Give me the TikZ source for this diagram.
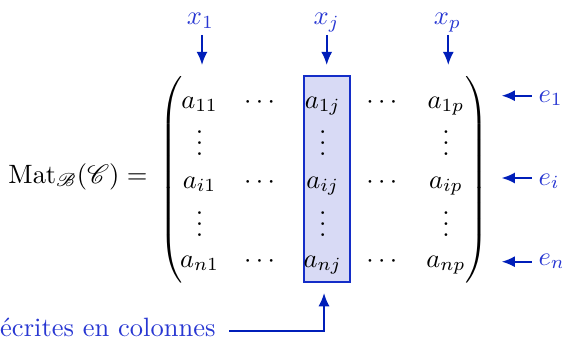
\documentclass[tikz,border=0pt]{standalone}
\usepackage{amsmath}
\usepackage{mathrsfs}
\usetikzlibrary{arrows.meta}
\definecolor{lblblue}{RGB}{40,55,210}
\definecolor{arrblue}{RGB}{0,30,185}
\definecolor{boxfill}{RGB}{216,218,245}
\definecolor{boxline}{RGB}{20,45,200}
\begin{document}
\begin{tikzpicture}[x=0.3774pt,y=-0.3774pt,
  ent/.style={anchor=base,inner sep=0pt},
  lbl/.style={text=lblblue,inner sep=0pt},
  arr/.style={draw=arrblue,line width=0.7pt,-{Latex[length=5pt,width=4.2pt]}},
  colbox/.style={draw=boxline,fill=boxfill,line width=0.45pt,inner sep=0pt},
  delim/.style={inner sep=0pt}]
\useasboundingbox (0,0) rectangle (562,341);
% highlighted column
\node[colbox,minimum width=17.36pt,minimum height=77.74pt] (colj) at (327,179) {};
% left part
\node[anchor=base east,inner sep=0pt] (mat) at (148,183) {$\mathrm{Mat}_{\mathscr{B}}(\mathscr{C}) =$};
% delimiters
\node[delim] (lp) at (173,180) {$\delimiterfactor=1000\delimitershortfall=0pt\left(\vcenter{\hbox{\rule{0pt}{76pt}}}\right.$};
\node[delim] (rp) at (475,180) {$\delimiterfactor=1000\delimitershortfall=0pt\left.\vcenter{\hbox{\rule{0pt}{76pt}}}\right)$};
% entries
\node[ent] (m11) at (199.5,108) {$a_{11}$};
\node[ent] (m12) at (261.7,108) {$\cdots$};
\node[ent] (m13) at (322.7,108) {$a_{1j}$};
\node[ent] (m14) at (384,108) {$\cdots$};
\node[ent] (m15) at (446,108) {$a_{1p}$};
\node[ent] (m21) at (199.5,155) {$\vdots$};
\node[ent] (m23) at (322.7,155) {$\vdots$};
\node[ent] (m25) at (446,155) {$\vdots$};
\node[ent] (m31) at (199.5,188) {$a_{i1}$};
\node[ent] (m32) at (261.7,188) {$\cdots$};
\node[ent] (m33) at (322.7,188) {$a_{ij}$};
\node[ent] (m34) at (384,188) {$\cdots$};
\node[ent] (m35) at (446,188) {$a_{ip}$};
\node[ent] (m41) at (199.5,236) {$\vdots$};
\node[ent] (m43) at (322.7,236) {$\vdots$};
\node[ent] (m45) at (446,236) {$\vdots$};
\node[ent] (m51) at (199.5,267) {$a_{n1}$};
\node[ent] (m52) at (261.7,267) {$\cdots$};
\node[ent] (m53) at (322.7,267) {$a_{nj}$};
\node[ent] (m54) at (384,267) {$\cdots$};
\node[ent] (m55) at (446,267) {$a_{np}$};
% top labels and arrows
\node[lbl,anchor=base] (x1) at (200.5,25) {$x_1$};
\node[lbl,anchor=base] (xj) at (326.7,25) {$x_j$};
\node[lbl,anchor=base] (xp) at (447.5,25) {$x_p$};
\coordinate (x1s) at (202,35);  \coordinate (x1t) at (202,65);
\coordinate (xjs) at (326.7,35); \coordinate (xjt) at (326.7,65);
\coordinate (xps) at (448.3,35); \coordinate (xpt) at (448.3,65);
\draw[arr] (x1s) -- (x1t);
\draw[arr] (xjs) -- (xjt);
\draw[arr] (xps) -- (xpt);
% right labels and arrows
\node[lbl,anchor=base west] (e1) at (538,102) {$e_1$};
\node[lbl,anchor=base west] (ei) at (538,185) {$e_i$};
\node[lbl,anchor=base west] (en) at (538,265) {$e_n$};
\coordinate (e1s) at (531.7,95.7);  \coordinate (e1t) at (501.7,95.7);
\coordinate (eis) at (531.7,178);   \coordinate (eit) at (501.7,178);
\coordinate (ens) at (531.7,261.7); \coordinate (ent) at (501.7,261.7);
\draw[arr] (e1s) -- (e1t);
\draw[arr] (eis) -- (eit);
\draw[arr] (ens) -- (ent);
% bottom annotation
\node[lbl,anchor=base east] (txt) at (216,336.5) {écrites en colonnes};
\coordinate (bs) at (229,331);
\coordinate (bt) at (324,293);
\draw[arr] (bs) -| (bt);
\end{tikzpicture}
\end{document}
